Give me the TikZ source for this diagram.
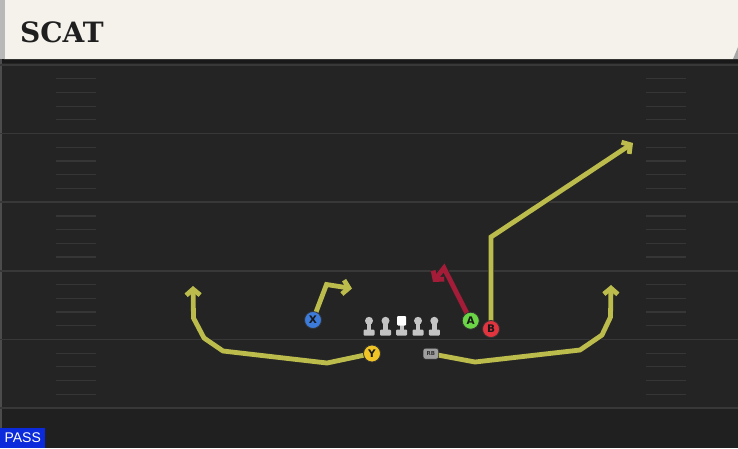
\documentclass[tikz,border=0pt]{standalone}
\usepackage{fontspec}
\setmainfont{DejaVu Sans}
\newfontfamily\titlefont{DejaVu Serif}
\newfontfamily\passfont{Liberation Sans}
\usetikzlibrary{arrows.meta}
\pgfdeclarelayer{bg}
\pgfsetlayers{bg,main}
\definecolor{fieldbg}{HTML}{242424}
\definecolor{fieldlow}{HTML}{202020}
\definecolor{yardline}{HTML}{383838}
\definecolor{hashc}{HTML}{363636}
\definecolor{cream}{HTML}{F5F2EB}
\definecolor{routeyel}{HTML}{BCBC4C}
\definecolor{routered}{HTML}{A51C38}
\definecolor{pblue}{HTML}{3C7BDA}
\definecolor{pyellow}{HTML}{F0C426}
\definecolor{pgreen}{HTML}{6AD645}
\definecolor{pred}{HTML}{E2343F}
\definecolor{linegray}{HTML}{C4C4C4}
\definecolor{passblue}{HTML}{0A2ADB}
\tikzset{
  route/.style={line width=4.8pt, draw=routeyel, line join=miter, line cap=butt,
    preaction={draw=black!85, line width=6.4pt},
    -{Straight Barb[length=6pt,width=14pt,line cap=butt]}},
  redroute/.style={route, draw=routered},
  player/.style={circle, draw=black!80, line width=0.8pt, minimum size=17pt, inner sep=0pt,
    font=\fontsize{10.5}{11}\selectfont\bfseries, text=black!90},
  rbbox/.style={rounded corners=2.5pt, fill=gray!75, draw=black!80, line width=0.6pt,
    minimum width=15.5pt, minimum height=11pt, inner sep=0pt, font=\fontsize{5.5}{5.5}\selectfont\bfseries, text=black!80},
  hashmark/.style={draw=hashc, line width=1.2pt},
  yard/.style={draw=yardline, line width=1.6pt},
  olman/.style={fill=linegray}
}
\begin{document}
\begin{tikzpicture}[x=1pt,y=-1pt]
\useasboundingbox (0,0) rectangle (738,448);
\begin{pgfonlayer}{bg}
  % field
  \fill[fieldbg] (0,59) rectangle (738,448);
  \fill[fieldlow] (0,408) rectangle (738,448);
  \fill[black!90] (0,59) rectangle (738,63);
  \fill[black!70] (0,59) rectangle (2,448);
  \foreach \yy in {65,133.6,202.2,270.8,339.4,408}{
    \draw[yard] (0,\yy) -- (738,\yy);
  }
  \foreach \yy in {65,133.6,202.2,270.8,339.4}{
    \foreach \k in {1,2,3,4}{
      \draw[hashmark] (56,\yy+\k*13.72) -- (96,\yy+\k*13.72);
      \draw[hashmark] (646,\yy+\k*13.72) -- (686,\yy+\k*13.72);
    }
  }
  % header
  \fill[cream] (4,0) -- (738,0) -- (738,47) -- (733,59) -- (4,59) -- cycle;
  \fill[gray!70] (733,59) -- (738,47) -- (738,59) -- cycle;
  \fill[gray!55] (0,0) rectangle (5,59);
\end{pgfonlayer}

\node[anchor=base west, inner sep=0pt, font=\titlefont\fontsize{28}{28}\selectfont\bfseries, text=black!88] (title) at (20,42.5) {SCAT};

\node[anchor=south west, fill=passblue, text=white, inner sep=0pt, minimum width=45pt, minimum height=20pt,
  font=\passfont\fontsize{14}{14}\selectfont] (pass) at (0,448) {PASS};

% offensive line
\foreach \xx/\nm in {369/lt,385.5/lg,418/rg,434.3/rt}{
  \fill[olman, rounded corners=1pt] (\xx-5.5,335.5) rectangle (\xx+5.5,329.5);
  \fill[olman] (\xx-2.2,330) rectangle (\xx+2.2,322);
  \fill[olman] (\xx,320.8) circle[radius=4];
  \coordinate (\nm) at (\xx,326);
}
\fill[olman, rounded corners=1pt] (396.2,335.5) rectangle (407.2,329.5);
\fill[olman] (399.5,330) rectangle (403.9,322);
\fill[white, rounded corners=1pt] (397.2,316) rectangle (406.2,325.5);
\coordinate (c) at (401.7,326);

% players
\node[player, fill=pblue] (X) at (313,320) {X};
\node[player, fill=pyellow] (Y) at (372,353.5) {Y};
\node[player, fill=pgreen] (A) at (470.7,320.7) {A};
\node[player, fill=pred] (B) at (491,329) {B};
\node[rbbox] (RB) at (430.8,353.7) {RB};

% route end points
\coordinate (yend) at (193,286);
\coordinate (rbend) at (611,285);
\coordinate (xend) at (352,288.5);
\coordinate (bend) at (633,143);
\coordinate (aend) at (433,282);

\begin{pgfonlayer}{bg}
  \draw[route] (Y.center) -- (327,363) -- (223,351) -- (204,338) -- (193.5,318) -- (yend);
  \draw[route] (RB.center) -- (475,362) -- (580,350) -- (602,335) -- (610.5,317) -- (rbend);
  \draw[route] (X.center) -- (326.5,284.5) -- (xend);
  \draw[route] (B.center) -- (491,237) -- (bend);
  \draw[redroute] (A.center) -- (444,268) -- (aend);
\end{pgfonlayer}
\end{tikzpicture}
\end{document}
